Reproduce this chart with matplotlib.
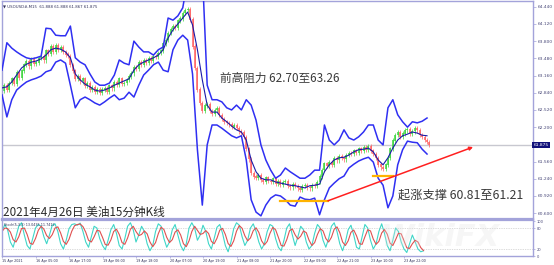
import numpy as np
import pandas as pd
import matplotlib
matplotlib.use("Agg")
import matplotlib.pyplot as plt

# ---------------- data ----------------
symbol_header = "\u25bc USOUSD#,M15  61.888 61.888 61.867 61.875"
title_text = "2021年4月26日 美油15分钟K线"
resist_text = "前高阻力 62.70至63.26"
support_text = "起涨支撑 60.81至61.21"
stoch_header = "Stoch(5,3,3) 13.0435 11.7412"

time_labels = ["15 Apr 2021", "16 Apr 05:00", "16 Apr 17:00", "19 Apr 06:00",
               "19 Apr 18:00", "20 Apr 07:00", "20 Apr 19:00", "21 Apr 08:00",
               "21 Apr 20:00", "22 Apr 09:00", "22 Apr 21:00", "23 Apr 10:00",
               "23 Apr 22:00"]
price_ticks = [64.44, 64.12, 63.80, 63.48, 63.16, 62.84, 62.52, 62.20,
               61.56, 61.24, 60.92, 60.60]
last_price = 61.875

band_upper = [63.26, 63.77, 63.67, 63.60, 63.54, 63.49, 63.47, 63.49, 63.52, 64.04,
              64.03, 63.91, 63.90, 63.90, 64.08, 63.49, 63.41, 63.36, 63.19, 63.04,
              62.98, 62.98, 63.02, 63.17, 63.45, 63.39, 63.36, 63.80, 63.69, 63.60,
              63.60, 63.54, 63.64, 63.69, 64.23, 64.19, 64.27, 64.42, 64.94, 65.31,
              65.50, 65.12, 62.98, 62.71, 62.71, 62.67, 62.56, 62.52, 62.61, 62.52,
              62.71, 62.61, 62.33, 61.87, 61.59, 61.40, 61.25, 61.31, 61.44, 61.37,
              61.31, 61.25, 61.25, 61.31, 61.40, 61.40, 62.24, 61.96, 61.87, 61.96,
              62.15, 62.00, 61.96, 62.02, 62.11, 62.24, 62.24, 61.96, 61.87, 62.56,
              62.71, 62.43, 62.30, 62.20, 62.30, 62.28, 62.31, 62.37]
band_middle = [62.93, 62.95, 63.04, 63.17, 63.30, 63.37, 63.41, 63.43, 63.47, 63.54,
               63.64, 63.67, 63.65, 63.60, 63.49, 63.19, 63.08, 63.00, 62.95, 62.89,
               62.87, 62.89, 62.93, 62.98, 63.02, 63.06, 63.10, 63.26, 63.36, 63.41,
               63.45, 63.49, 63.54, 63.64, 63.86, 64.01, 64.12, 64.23, 64.34, 64.10,
               63.64, 63.08, 62.61, 62.48, 62.48, 62.37, 62.30, 62.22, 62.15, 62.11,
               61.96, 61.59, 61.37, 61.25, 61.22, 61.22, 61.18, 61.16, 61.14, 61.12,
               61.11, 61.09, 61.07, 61.11, 61.12, 61.14, 61.37, 61.50, 61.59, 61.63,
               61.64, 61.68, 61.74, 61.78, 61.79, 61.81, 61.74, 61.59, 61.50, 61.63,
               61.81, 61.96, 62.04, 62.07, 62.11, 62.09, 62.05, 62.04]
band_lower = [62.80, 62.39, 62.71, 62.89, 62.97, 63.04, 63.08, 63.11, 63.15, 63.23,
              63.26, 63.41, 63.45, 63.39, 62.98, 62.56, 62.71, 62.76, 62.71, 62.65,
              62.61, 62.67, 62.74, 62.80, 62.71, 62.74, 62.85, 62.76, 62.98, 63.17,
              63.26, 63.36, 63.41, 63.26, 63.23, 63.64, 63.82, 63.91, 63.82, 63.19,
              61.78, 60.75, 61.87, 62.24, 62.24, 62.18, 62.11, 62.04, 62.00, 62.04,
              61.59, 60.85, 60.62, 60.55, 60.75, 60.88, 60.94, 60.92, 60.85, 60.75,
              60.73, 60.90, 60.86, 60.85, 60.88, 60.57, 60.85, 61.07, 61.16, 61.24,
              61.29, 61.44, 61.51, 61.57, 61.61, 61.64, 61.55, 61.25, 61.12, 60.70,
              60.92, 61.50, 61.78, 61.94, 61.92, 61.91, 61.79, 61.70]
closes = [62.88, 62.98, 62.90, 63.02, 63.10, 63.00, 63.22, 63.12, 63.25, 63.36,
          63.42, 63.33, 63.46, 63.38, 63.40, 63.48, 63.52, 63.44, 63.62, 63.56,
          63.70, 63.60, 63.72, 63.64, 63.68, 63.60, 63.55, 63.52, 63.35, 63.25,
          63.10, 63.15, 63.05, 63.10, 62.96, 63.02, 62.90, 62.94, 62.85, 62.90,
          62.84, 62.90, 62.92, 62.86, 62.97, 62.92, 63.03, 62.99, 63.10, 63.00,
          63.02, 63.08, 63.14, 63.20, 63.32, 63.28, 63.40, 63.35, 63.44, 63.40,
          63.48, 63.43, 63.52, 63.50, 63.58, 63.62, 63.75, 63.82, 63.95, 64.02,
          64.08, 64.05, 64.18, 64.22, 64.32, 64.38, 64.40, 64.20, 63.70, 63.30,
          62.90, 62.65, 62.50, 62.60, 62.62, 62.50, 62.45, 62.52, 62.55, 62.42,
          62.35, 62.30, 62.28, 62.25, 62.20, 62.24, 62.18, 62.12, 62.10, 62.02,
          61.80, 61.60, 61.35, 61.28, 61.25, 61.30, 61.22, 61.18, 61.26, 61.20,
          61.18, 61.24, 61.15, 61.20, 61.12, 61.18, 61.20, 61.10, 61.08, 61.14,
          61.10, 61.06, 61.04, 61.10, 61.12, 61.08, 61.06, 61.12, 61.10, 61.18,
          61.28, 61.40, 61.52, 61.48, 61.55, 61.50, 61.62, 61.58, 61.66, 61.62,
          61.60, 61.68, 61.72, 61.70, 61.76, 61.72, 61.80, 61.76, 61.82, 61.78,
          61.84, 61.76, 61.70, 61.62, 61.50, 61.45, 61.42, 61.50, 61.62, 61.80,
          61.95, 62.05, 62.10, 62.02, 62.08, 62.14, 62.16, 62.08, 62.12, 62.18,
          62.14, 62.05, 62.02, 61.96, 61.92, 61.875]
stoch_k = [70, 90, 75, 40, 25, 55, 85, 95, 60, 30, 20, 50, 80, 90, 85, 55, 35, 60, 88, 92,
           70, 35, 20, 45, 78, 90, 92, 88, 94, 70, 40, 25, 55, 85, 80, 50, 30, 18, 45, 75,
           90, 65, 30, 20, 50, 85, 95, 75, 40, 60, 85, 70, 35, 15, 30, 70, 92, 85, 50, 25,
           40, 75, 90, 60, 30, 15, 35, 80, 95, 80, 45, 60, 88, 70, 35, 20, 50, 82, 90, 65,
           30, 12, 40, 78, 95, 88, 55, 30, 45, 80, 92, 70, 40, 20, 35, 70, 90, 85, 50, 25,
           15, 45, 80, 92, 60, 30, 55, 85, 75, 40, 20, 30, 65, 90, 80, 45, 25, 50, 85, 95,
           70, 35, 15, 40, 75, 88, 60, 25, 20, 55, 90, 80, 45, 20, 35, 70, 92, 65, 30, 15,
           45, 80, 70, 40, 20, 10, 35, 60, 40, 20, 12, 15]

support_lines = [(398, 467, 60.83), (531, 560, 61.29)]   # (start bar, end bar, price)
trend_from = (467, 60.83)
trend_to = (675, 61.83)

# ---------------- layout ----------------
W, H = 554, 265
BARS_PER_LABEL = 48
BAND_STEP = 7
CANDLE_STEP = 3.5
STOCH_STEP = 4
px_per_bar = 33.5 / BARS_PER_LABEL

fig = plt.figure(figsize=(W / 100, H / 100), dpi=100)
fig.patch.set_facecolor("white")

def fx(px):
    return px / W

def fy(py):
    return 1 - py / H

ax = fig.add_axes([fx(2), fy(219), fx(531), (219 - 1) / H])
sax = fig.add_axes([fx(2), fy(256), fx(531), (256 - 220) / H])

xmax = 531 / px_per_bar
ax.set_xlim(0, xmax)
sax.set_xlim(0, xmax)
ax.set_ylim(64.565 - 0.0186 * 219, 64.565 - 0.0186 * 1)
sax.set_ylim(0, 102.9)

frame_col = "#a3a3da"
for a in (ax, sax):
    for s in a.spines.values():
        s.set_color(frame_col)
        s.set_linewidth(1.0)
ax.spines["bottom"].set_linewidth(1.6)
sax.spines["top"].set_linewidth(1.6)

# current price line
ax.axhline(last_price, color="#c8c8d0", lw=1.0, zorder=1)

# candles
xc = np.arange(len(closes)) * CANDLE_STEP
for i, c in enumerate(closes):
    o = closes[i - 1] if i > 0 else c
    col = "#3ad43a" if c >= o else "#ff6060"
    lo, hi = min(o, c), max(o, c)
    ax.vlines(xc[i], lo - 0.04, hi + 0.04, color=col, lw=0.5, zorder=2)
    ax.vlines(xc[i], lo, hi + 0.006, color=col, lw=1.1, zorder=2)

xb = np.arange(len(band_upper)) * BAND_STEP
ax.plot(xb, band_upper, color="#2f2ff2", lw=1.1, zorder=3)
ax.plot(xb, band_lower, color="#2f2ff2", lw=1.1, zorder=3)
ax.plot(xb, band_middle, color="#1a1aa8", lw=0.8, zorder=3)

# support marks
for b0, b1, p in support_lines:
    ax.plot([b0, b1], [p, p], color="#ffb300", lw=1.6, zorder=4)
ax.annotate("", xy=trend_to, xytext=trend_from,
            arrowprops=dict(arrowstyle="-|>", color="#ff2020", lw=1.1,
                            mutation_scale=5, shrinkA=0, shrinkB=0), zorder=5)

# y ticks (right)
ax.yaxis.tick_right()
ax.set_yticks(price_ticks)
ax.set_yticklabels([f"{v:.3f}" for v in price_ticks])
ax.tick_params(axis="y", direction="out", length=2, width=0.5, colors=frame_col,
               labelcolor="#4a4a7a", labelsize=3.2, pad=1.5)
ax.set_xticks([])
ax.text(1.001, last_price, f"{last_price:.3f}", transform=ax.get_yaxis_transform(),
        fontsize=3.2, color="white", va="center", ha="left",
        bbox=dict(boxstyle="square,pad=0.25", fc="#10107a", ec="none"))

# texts
ax.text(0.002, 0.985, symbol_header, transform=ax.transAxes, fontsize=2.8,
        color="#30305a", va="top", ha="left", family=["DejaVu Sans"])
cjk = ["Noto Sans CJK SC", "DejaVu Sans"]
fig.text(fx(220), fy(78), resist_text, fontsize=8.4, color="#3a3a3a",
         va="center", ha="left", family=cjk)
fig.text(fx(398), fy(195), support_text, fontsize=8.8, color="#3a3a3a",
         va="center", ha="left", family=cjk)
fig.text(fx(3), fy(212), title_text, fontsize=8.4, color="#2a2a2a",
         va="center", ha="left", family=cjk, zorder=10)

# stochastic
xs = np.arange(len(stoch_k)) * STOCH_STEP
k_ser = pd.Series(stoch_k, dtype=float)
d_ser = k_ser.rolling(3, min_periods=1).mean()
sax.axhline(80, color="#b8b8b8", lw=0.5, ls=(0, (1, 1.5)))
sax.axhline(20, color="#b8b8b8", lw=0.5, ls=(0, (1, 1.5)))
sax.plot(xs, k_ser, color="#3fd6c8", lw=0.8)
sax.plot(xs, d_ser, color="#e05050", lw=0.8)
sax.text(0.004, 0.93, stoch_header, transform=sax.transAxes, fontsize=2.4,
         color="#30305a", va="top", ha="left")
sax.yaxis.tick_right()
sax.set_yticks([100, 80, 20, 0])
sax.set_yticklabels(["100", "80", "20", "0"])
sax.tick_params(axis="y", direction="out", length=1.5, width=0.5, colors=frame_col,
                labelcolor="#4a4a7a", labelsize=2.6, pad=1.0)
tick_pos = np.arange(len(time_labels)) * BARS_PER_LABEL
sax.set_xticks(tick_pos)
sax.set_xticklabels(time_labels)
sax.tick_params(axis="x", direction="out", length=1.5, width=0.5, colors=frame_col,
                labelcolor="#30305a", labelsize=2.4, pad=1.0)
for lab in sax.get_xticklabels():
    lab.set_horizontalalignment("left")

fig.text(fx(440), fy(238), "WikiFX", fontsize=22, color="#e2e2e2", alpha=0.3,
         ha="center", va="center", fontweight="bold", style="italic")

fig.savefig("out.png", dpi=100, facecolor="white")
